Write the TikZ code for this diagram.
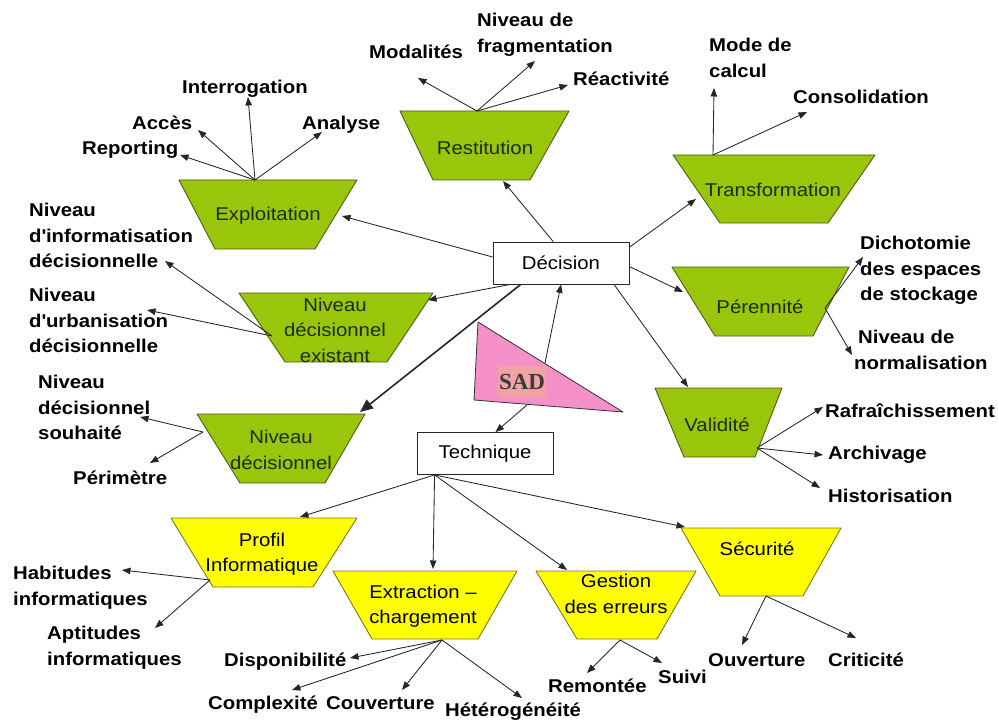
\documentclass[tikz,border=0pt]{standalone}
\usepackage{fontspec}
\setmainfont{Liberation Sans}[FakeStretch=1.1]
\newfontfamily\sadfont{Liberation Serif}
\usetikzlibrary{arrows.meta}
\definecolor{vert}{HTML}{99C60A}
\definecolor{jaune}{HTML}{FFFF00}
\definecolor{greenedge}{HTML}{4F5C1C}
\definecolor{yellowedge}{HTML}{77772A}
\definecolor{rose}{HTML}{F590C8}
\definecolor{saumon}{HTML}{F0A2A4}
\definecolor{sadtext}{HTML}{3C3C3C}
\definecolor{linegray}{HTML}{262626}
\definecolor{gtext}{HTML}{1E2A08}
\begin{document}
\begin{tikzpicture}[x=1pt,y=-1pt,
  lbl/.style={font=\bfseries\fontsize{18.5}{25.5}\selectfont, inner sep=0, align=left, text=black},
  stxt/.style={font=\fontsize{18.5}{25.5}\selectfont, inner sep=0, align=center},
  gtxt/.style={stxt, text=gtext},
  arr/.style={-{Triangle[length=8.5pt,width=6.5pt]}, draw=linegray, line width=0.85pt},
  bigarr/.style={-{Triangle[length=13pt,width=11pt]}, draw=linegray, line width=1.6pt},
  gshape/.style={draw=greenedge, fill=vert, line width=0.9pt, line join=round},
  yshape/.style={draw=yellowedge, fill=jaune, line width=0.9pt, line join=round},
  boxnode/.style={draw=black!85, fill=white, line width=0.8pt, minimum width=136pt, minimum height=42pt, inner sep=0, font=\fontsize{18.5}{22}\selectfont},
  sadbox/.style={fill=saumon, minimum width=48pt, minimum height=31pt, inner sep=0, text=sadtext, font=\sadfont\bfseries\fontsize{23}{24}\selectfont}
]
\useasboundingbox (0,0) rectangle (998,722);
\fill[white] (0,0) rectangle (998,722);

% ---------- trapezoids (green) ----------
\draw[gshape] (179,180) -- (357,180) -- (315,249) -- (215,249) -- cycle;
\node[gtxt] (expl) at (268,216) {Exploitation};
\draw[gshape] (400,111) -- (569,111) -- (530,180) -- (433,180) -- cycle;
\node[gtxt] (rest) at (485,148) {Restitution};
\draw[gshape] (673,155) -- (875,155) -- (828,223) -- (720,223) -- cycle;
\node[gtxt] (trans) at (773,190) {Transformation};
\draw[gshape] (672,267) -- (849,267) -- (813,336) -- (715,336) -- cycle;
\node[gtxt] (peren) at (760,307) {Pérennité};
\draw[gshape] (655,388) -- (782,388) -- (755,457) -- (684,457) -- cycle;
\node[gtxt] (valid) at (717,425) {Validité};
\draw[gshape] (239,293) -- (433,293) -- (387,362) -- (285,362) -- cycle;
\node[gtxt] (nde) at (335,330) {Niveau\\décisionnel\\existant};
\draw[gshape] (197,414) -- (365,414) -- (325,483) -- (240,483) -- cycle;
\node[gtxt] (nd) at (281,450) {Niveau\\décisionnel};

% ---------- trapezoids (yellow) ----------
\draw[yshape] (171,518) -- (357,518) -- (313,587) -- (213,587) -- cycle;
\node[stxt] (profil) at (262,554) {Profil\\Informatique};
\draw[yshape] (333,571) -- (517,571) -- (478,639) -- (372,639) -- cycle;
\node[stxt] (extr) at (423,606) {Extraction --\\chargement};
\draw[yshape] (536,571) -- (696,571) -- (657,639) -- (577,639) -- cycle;
\node[stxt] (gest) at (616,594) {Gestion\\des erreurs};
\draw[yshape] (681,528) -- (841,528) -- (803,596) -- (720,596) -- cycle;
\node[stxt] (secu) at (757,549) {Sécurité};

% ---------- central boxes ----------
\node[boxnode] (dec) at (561,263) {Décision};
\node[boxnode] (tech) at (485,453.5) {Technique};

% ---------- SAD triangle ----------
\draw[fill=rose, draw=black!80, line width=0.8pt, line join=round] (478,322) -- (623,412) -- (474,400) -- cycle;
\node[sadbox] (sad) at (522,381.5) {SAD};

% ---------- labels ----------
\node[lbl, anchor=base west] (reporting) at (82,155) {Reporting};
\node[lbl, anchor=base west] (acces) at (132,130) {Accès};
\node[lbl, anchor=base west] (interro) at (182,94) {Interrogation};
\node[lbl, anchor=base west] (analyse) at (302,130) {Analyse};
\node[lbl, anchor=base west] (modal) at (369,59) {Modalités};
\node[lbl, anchor=north west] (frag) at (477,13) {Niveau de\\fragmentation};
\node[lbl, anchor=base west] (reac) at (573,86) {Réactivité};
\node[lbl, anchor=north west] (mode) at (709,38) {Mode de\\calcul};
\node[lbl, anchor=base west] (conso) at (793,104) {Consolidation};
\node[lbl, anchor=north west] (dicho) at (860,236) {Dichotomie\\des espaces\\de stockage};
\node[lbl, anchor=north west] (norma) at (854,330) {\hspace*{4pt}Niveau de\\normalisation};
\node[lbl, anchor=base west] (rafr) at (825,417) {Rafraîchissement};
\node[lbl, anchor=base west] (archi) at (828,459) {Archivage};
\node[lbl, anchor=base west] (histo) at (828,502) {Historisation};
\node[lbl, anchor=base west] (ouv) at (708,666) {Ouverture};
\node[lbl, anchor=base west] (crit) at (828,666) {Criticité};
\node[lbl, anchor=base west] (remont) at (548,692) {Remontée};
\node[lbl, anchor=base west] (suivi) at (658,683) {Suivi};
\node[lbl, anchor=base west] (hetero) at (445,716) {Hétérogénéité};
\node[lbl, anchor=base west] (complex) at (208,709) {Complexité};
\node[lbl, anchor=base west] (couv) at (326,709) {Couverture};
\node[lbl, anchor=base west] (dispo) at (224,666) {Disponibilité};
\node[lbl, anchor=north west] (habit) at (13,566) {Habitudes\\informatiques};
\node[lbl, anchor=north west] (aptit) at (47,626) {Aptitudes\\informatiques};
\node[lbl, anchor=base west] (perim) at (73,484) {Périmètre};
\node[lbl, anchor=north west] (souh) at (38,375) {Niveau\\décisionnel\\souhaité};
\node[lbl, anchor=north west] (urba) at (29,288) {Niveau\\d\textquotesingle urbanisation\\décisionnelle};
\node[lbl, anchor=north west] (infor) at (29,203) {Niveau\\d\textquotesingle informatisation\\décisionnelle};

% ---------- coordinates ----------
\coordinate (ex-in) at (342,216);
\coordinate (re-in) at (503,181);
\coordinate (tr-in) at (696,199);
\coordinate (pe-in) at (683,292);
\coordinate (va-in) at (688,387);
\coordinate (nde-in) at (428,300);
\coordinate (nd-in) at (360,412);
\coordinate (pr-in) at (300,517);
\coordinate (xc-in) at (433,569);
\coordinate (ge-in) at (567,570);
\coordinate (se-in) at (685,527);
\coordinate (sad-a) at (545,363);
\coordinate (sad-b) at (527,405);

\coordinate (ex-o) at (255,180);
\coordinate (ex-1) at (180,155);
\coordinate (ex-2) at (198,130);
\coordinate (ex-3) at (248,97);
\coordinate (ex-4) at (322,132);
\coordinate (re-o) at (477,111);
\coordinate (re-1) at (418,78);
\coordinate (re-2) at (535,61);
\coordinate (re-3) at (568,85);
\coordinate (tr-o) at (713,155);
\coordinate (tr-1) at (714,88);
\coordinate (tr-2) at (807,112);
\coordinate (pe-o) at (825,308);
\coordinate (pe-1) at (863,257);
\coordinate (pe-2) at (852,355);
\coordinate (va-o) at (757,448);
\coordinate (va-1) at (823,407);
\coordinate (va-2) at (823,455);
\coordinate (va-3) at (820,488);
\coordinate (nde-o) at (272,336);
\coordinate (nde-1) at (165,261);
\coordinate (nde-2) at (147,310);
\coordinate (nd-o) at (203,432);
\coordinate (nd-1) at (140,417);
\coordinate (nd-2) at (150,463);
\coordinate (pr-o) at (210,580);
\coordinate (pr-1) at (122,570);
\coordinate (pr-2) at (155,628);
\coordinate (xc-o) at (442,640);
\coordinate (xc-1) at (350,658);
\coordinate (xc-2) at (292,690);
\coordinate (xc-3) at (402,690);
\coordinate (xc-4) at (522,698);
\coordinate (ge-o) at (620,640);
\coordinate (ge-1) at (587,673);
\coordinate (ge-2) at (662,663);
\coordinate (se-o) at (766,596);
\coordinate (se-1) at (742,645);
\coordinate (se-2) at (856,638);

% ---------- connectors from Décision ----------
\draw[arr] (dec.175) -- (ex-in);
\draw[arr] (dec.110) -- (re-in);
\draw[arr] (dec.13) -- (tr-in);
\draw[arr] (dec.-3) -- (pe-in);
\draw[arr] (dec.-22) -- (va-in);
\draw[arr] (dec.203) -- (nde-in);
\draw[bigarr] (dec.208) -- (nd-in);

% ---------- SAD ----------
\draw[arr] (sad-a) -- (dec.south);
\draw[arr] (sad-b) -- (tech.64);

% ---------- from Technique ----------
\draw[arr] (tech.203) -- (pr-in);
\draw[arr] (tech.203) -- (xc-in);
\draw[arr] (tech.203) -- (ge-in);
\draw[arr] (tech.203) -- (se-in);

% ---------- sub-criteria ----------
\foreach \i in {1,2,3,4} \draw[arr] (ex-o) -- (ex-\i);
\foreach \i in {1,2,3} \draw[arr] (re-o) -- (re-\i);
\foreach \i in {1,2} \draw[arr] (tr-o) -- (tr-\i);
\foreach \i in {1,2} \draw[arr] (pe-o) -- (pe-\i);
\foreach \i in {1,2,3} \draw[arr] (va-o) -- (va-\i);
\foreach \i in {1,2} \draw[arr] (nde-o) -- (nde-\i);
\foreach \i in {1,2} \draw[arr] (nd-o) -- (nd-\i);
\foreach \i in {1,2} \draw[arr] (pr-o) -- (pr-\i);
\foreach \i in {1,2,3,4} \draw[arr] (xc-o) -- (xc-\i);
\foreach \i in {1,2} \draw[arr] (ge-o) -- (ge-\i);
\foreach \i in {1,2} \draw[arr] (se-o) -- (se-\i);
\end{tikzpicture}
\end{document}
